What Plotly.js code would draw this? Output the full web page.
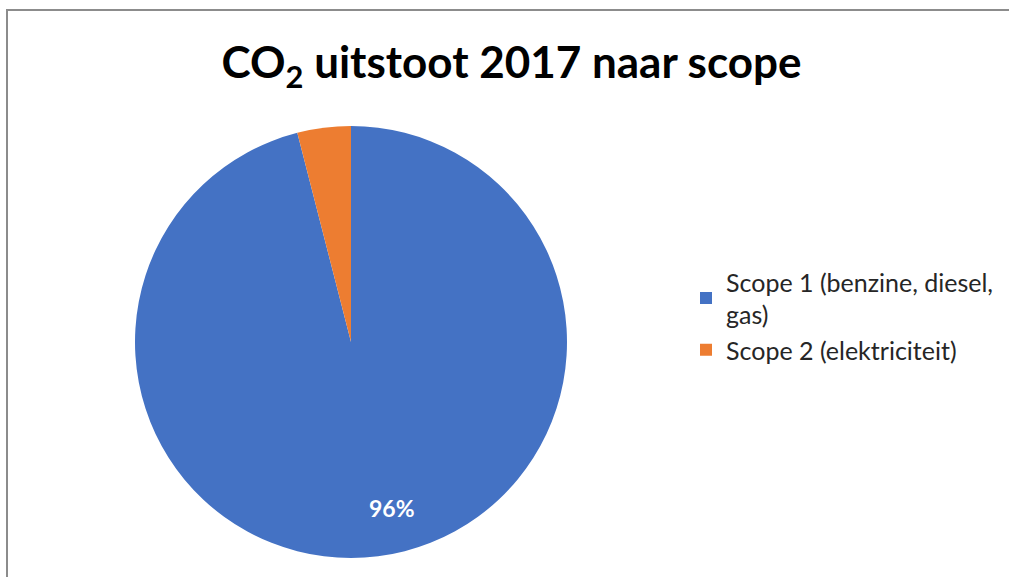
<!DOCTYPE html>
<html>
<head>
<meta charset="utf-8">
<script src="https://cdn.plot.ly/plotly-3.0.1.min.js"></script>
<style>html,body{margin:0;padding:0;background:#fff;}#chart{width:1009px;height:577px;}</style>
</head>
<body>
<div id="chart"></div>
<script>
const labels = ["Scope 1 (benzine, diesel,<br>gas)", "Scope 2 (elektriciteit)"];
const values = [96, 4];
const colors = ["#4472C4", "#ED7D31"];
const shownText = ["96%", ""];
const titleText = "CO<sub>2</sub> uitstoot 2017 naar scope";

const trace = {
  type: "pie",
  labels: labels,
  values: values,
  sort: false,
  direction: "clockwise",
  rotation: 0,
  marker: {colors: colors, line: {color: "#ffffff", width: 0}},
  textinfo: "none",
  domain: {x: [135/1009, 567/1009], y: [1 - 558/577, 1 - 126/577]},
  hoverinfo: "none"
};

const layout = {
  width: 1009, height: 577,
  margin: {l: 0, r: 0, t: 0, b: 0},
  paper_bgcolor: "#ffffff",
  title: {text: titleText, x: 0.507, xanchor: "center", y: 1 - 63/577, yanchor: "middle",
          font: {family: "Lato, sans-serif", size: 44, color: "#000000", weight: "bold"}},
  showlegend: true,
  legend: {x: 686/1009, xanchor: "left", y: 1 - 259/577, yanchor: "top",
           font: {family: "Lato, sans-serif", size: 25, color: "#262626"},
           itemwidth: 30},
  annotations: [{xref: "paper", yref: "paper", x: 392/1009, y: 1 - 508/577, xanchor: "center", yanchor: "middle",
                 text: shownText[0], showarrow: false,
                 font: {family: "Lato, sans-serif", size: 23, color: "#ffffff", weight: "bold"}}],
  shapes: [{type: "rect", xref: "paper", yref: "paper", x0: 7/1009, x1: 1.2, y0: -0.2, y1: 1 - 10/577,
            line: {color: "#8c8c8c", width: 2}, fillcolor: "rgba(0,0,0,0)"}]
};

Plotly.newPlot("chart", [trace], layout, {displayModeBar: false, staticPlot: true});
</script>
</body>
</html>
